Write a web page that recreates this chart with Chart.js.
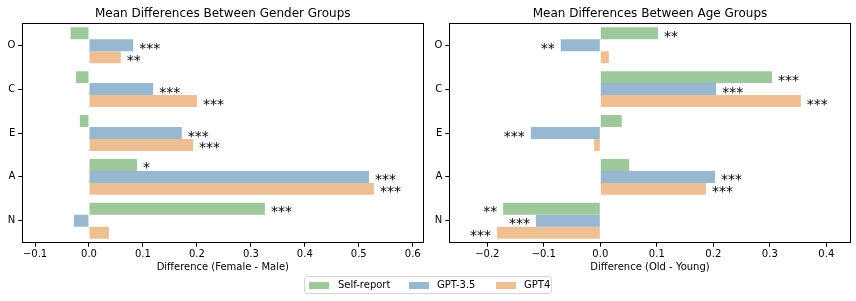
<!DOCTYPE html>
<html><head><meta charset="utf-8">
<script src="https://cdn.jsdelivr.net/npm/chart.js@4"></script>
<style>
body{margin:0;background:#fff;width:856px;height:301px;overflow:hidden;position:relative;font-family:"DejaVu Sans",sans-serif;}
.c{position:absolute;top:0;width:428px;height:301px;}
#legend{position:absolute;left:304px;top:276px;width:248px;height:18px;border:1px solid #d6d6d6;border-radius:3px;box-sizing:border-box;font-size:10px;color:#000;}
#legend .p{position:absolute;top:5px;width:20px;height:7px;}
#legend .t{position:absolute;top:2px;line-height:12px;white-space:nowrap;}
</style></head>
<body>
<div class="c" style="left:0"><canvas id="g" width="428" height="301"></canvas></div>
<div class="c" style="left:428px"><canvas id="a" width="428" height="301"></canvas></div>
<div id="legend"></div>
<script>
const traits = ['O','C','E','A','N'];
const seriesNames = ['Self-report','GPT-3.5','GPT4'];
const seriesColors = ['#9dc99a','#98b8d1','#efbf94'];

// Gender: Female - Male
const genderSelf = [-0.034, -0.024, -0.017, 0.089, 0.326];
const genderGPT35 = [0.082, 0.119, 0.172, 0.519, -0.028];
const genderGPT4 = [0.059, 0.200, 0.193, 0.528, 0.037];
const genderSigSelf = ['', '', '', '*', '***'];
const genderSigGPT35 = ['***', '***', '***', '***', ''];
const genderSigGPT4 = ['**', '***', '***', '***', ''];

// Age: Old - Young
const ageSelf = [0.102, 0.304, 0.038, 0.051, -0.172];
const ageGPT35 = [-0.070, 0.205, -0.123, 0.203, -0.114];
const ageGPT4 = [0.015, 0.355, -0.011, 0.187, -0.183];
const ageSigSelf = ['**', '***', '', '', '**'];
const ageSigGPT35 = ['**', '***', '***', '***', '***'];
const ageSigGPT4 = ['', '***', '', '***', '***'];

const genderTicks = [-0.1, 0.0, 0.1, 0.2, 0.3, 0.4, 0.5, 0.6];
const ageTicks = [-0.2, -0.1, 0.0, 0.1, 0.2, 0.3, 0.4];

const FONT = '"DejaVu Sans"';

const starPlugin = {
  id: 'stars',
  afterDatasetsDraw(chart, args, opts) {
    const ctx = chart.ctx;
    ctx.save();
    ctx.font = '14px ' + FONT;
    ctx.fillStyle = '#000';
    ctx.textBaseline = 'alphabetic';
    chart.data.datasets.forEach((ds, di) => {
      const meta = chart.getDatasetMeta(di);
      meta.data.forEach((bar, i) => {
        const s = opts.sig[di][i];
        if (!s) return;
        const neg = ds.data[i] < 0;
        ctx.textAlign = neg ? 'right' : 'left';
        ctx.fillText(s, bar.x + (neg ? -6 : 6), bar.y + 7.5);
      });
    });
    ctx.restore();
  }
};

const framePlugin = {
  id: 'frame',
  afterDraw(chart) {
    const a = chart.chartArea, ctx = chart.ctx;
    ctx.save();
    ctx.strokeStyle = '#000';
    ctx.lineWidth = 1;
    ctx.strokeRect(Math.round(a.left) + 0.5, Math.round(a.top) + 0.5, Math.round(a.right - a.left), Math.round(a.bottom - a.top));
    ctx.restore();
  }
};

function fmt(v) {
  return (v < -1e-9 ? '\u2212' : '') + Math.abs(v).toFixed(1);
}

function makeChart(id, title, xlabel, vals, sigs, ticks, xmin, xmax, yWidth, padRight) {
  return new Chart(document.getElementById(id), {
    type: 'bar',
    data: {
      labels: traits,
      datasets: vals.map((d, k) => ({
        label: seriesNames[k],
        data: d,
        backgroundColor: seriesColors[k],
        borderWidth: 0,
        barPercentage: 1,
        categoryPercentage: 0.82
      }))
    },
    options: {
      indexAxis: 'y',
      responsive: false,
      animation: false,
      devicePixelRatio: 1,
      layout: { padding: { left: 0, right: padRight, top: 0, bottom: 22.3 } },
      plugins: {
        legend: { display: false },
        tooltip: { enabled: false },
        title: {
          display: true, text: title, color: '#000', fullSize: false,
          font: { family: FONT, size: 12, weight: 'normal' },
          padding: { top: 6.2, bottom: 2.7 }
        },
        stars: { sig: sigs }
      },
      scales: {
        x: {
          type: 'linear', min: xmin, max: xmax,
          afterBuildTicks: s => { s.ticks = ticks.map(v => ({ value: v })); },
          afterFit: s => { s.height = 36; },
          ticks: { callback: v => fmt(v), color: '#000', font: { family: FONT, size: 10 }, padding: 2, maxRotation: 0, autoSkip: false },
          grid: { display: true, drawOnChartArea: false, drawTicks: true, tickLength: 4, color: '#000' },
          border: { display: true, color: '#000' },
          title: { display: true, text: xlabel, color: '#000', font: { family: FONT, size: 10 }, padding: { top: 0, bottom: 5 } }
        },
        y: {
          type: 'category', offset: true,
          afterFit: s => { s.width = yWidth; },
          ticks: { color: '#000', font: { family: FONT, size: 10 }, padding: 3 },
          grid: { display: true, offset: false, drawOnChartArea: false, drawTicks: true, tickLength: 4, color: '#000' },
          border: { display: true, color: '#000' }
        }
      }
    },
    plugins: [starPlugin, framePlugin]
  });
}

makeChart('g', 'Mean Differences Between Gender Groups', 'Difference (Female - Male)',
  [genderSelf, genderGPT35, genderGPT4], [genderSigSelf, genderSigGPT35, genderSigGPT4],
  genderTicks, -0.1236, 0.6196, 22.3, 4.7);
makeChart('a', 'Mean Differences Between Age Groups', 'Difference (Old - Young)',
  [ageSelf, ageGPT35, ageGPT4], [ageSigSelf, ageSigGPT35, ageSigGPT4],
  ageTicks, -0.2673, 0.4432, 21.3, 5.3);

// legend
const leg = document.getElementById('legend');
const patchX = [4, 104, 191];
const textX = [33, 132, 219];
seriesNames.forEach((n, k) => {
  const p = document.createElement('div');
  p.className = 'p'; p.style.left = patchX[k] + 'px'; p.style.background = seriesColors[k];
  leg.appendChild(p);
  const t = document.createElement('div');
  t.className = 't'; t.style.left = textX[k] + 'px'; t.textContent = n;
  leg.appendChild(t);
});
</script>
</body></html>
